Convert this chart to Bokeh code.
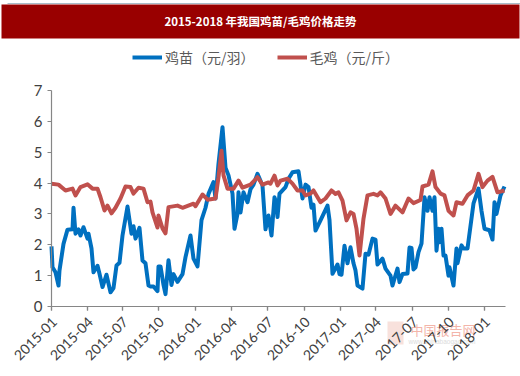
from bokeh.plotting import figure
from bokeh.models import FixedTicker, Legend, LegendItem, Label, BoxAnnotation, LinearAxis
from bokeh.embed import file_html
from bokeh.resources import INLINE
from math import pi

TITLE = "2015-2018 年我国鸡苗/毛鸡价格走势"
SERIES_A = "鸡苗（元/羽）"
SERIES_B = "毛鸡（元/斤）"
tick_pos = [0, 36, 71, 107, 144, 180, 216, 253, 289, 324, 361, 397, 433]
tick_txt = ["2015-01", "2015-04", "2015-07", "2015-10", "2016-01", "2016-04", "2016-07",
            "2016-10", "2017-01", "2017-04", "2017-07", "2017-10", "2018-01"]

a_idx = [0,1,4,7,8,12,16,21,22,24,27,29,32,36,37,40,42,46,48,51,55,59,62,65,68,71,76,80,82,84,88,91,94,97,99,102,
         106,107,109,112,114,117,120,122,126,131,134,139,142,146,150,154,157,162,164,167,171,174,177,181,183,186,187,
         189,192,196,199,202,206,211,214,217,220,223,225,226,228,234,237,241,247,251,254,257,260,262,264,269,276,278,
         281,286,288,290,293,296,299,302,304,306,311,314,317,321,324,326,331,334,339,341,346,348,351,356,358,360,362,
         364,367,370,373,376,378,381,383,385,387,388,390,392,394,397,398,402,405,406,410,412,416,422,427,430,433,438,
         441,443,445,449,453]
a_val = [1.95,1.27,1.11,0.68,1.17,2.03,2.49,2.5,3.2,2.36,2.5,2.3,2.57,2.2,2.36,1.88,1.11,1.32,1.06,0.63,1.03,0.46,0.6,
         1.33,1.42,2.3,3.24,2.36,2.6,2.2,2.55,1.49,1.4,0.68,0.65,0.65,0.5,1.3,1.3,0.7,0.4,1.5,0.7,1.05,0.8,1.05,1.6,2.3,
         1.55,1.3,2.8,3.2,3.65,4.03,3.5,4.63,5.81,4.5,4.25,3.66,2.52,3.0,3.7,3.05,3.7,3.38,3.8,3.95,4.3,3.92,2.5,2.95,2.3,
         3.54,3.33,2.9,3.66,3.87,4.14,4.35,4.38,3.5,3.95,3.87,3.2,3.3,2.46,2.79,3.27,2.8,1.06,1.36,1.05,1.03,1.97,1.4,1.92,
         1.4,1.17,0.68,0.58,1.71,1.68,2.2,2.17,1.36,1.55,1.23,1.0,0.68,1.23,0.79,1.05,1.07,1.91,1.9,1.2,1.27,1.76,2.04,3.54,
         3.1,3.54,3.1,3.54,1.81,2.52,2.08,2.52,1.65,1.65,1.0,1.27,0.68,1.88,1.4,1.98,1.88,1.88,3.34,3.82,3.1,2.52,2.47,2.17,
         3.38,3.0,3.6,3.89]
b_idx = [0,7,14,21,24,29,36,41,46,49,53,56,60,64,69,74,79,82,87,92,96,99,101,106,107,111,114,117,126,131,142,144,151,
         156,164,167,170,172,176,182,187,191,199,206,211,217,219,223,226,229,236,241,246,251,254,259,262,269,274,280,284,
         287,291,295,299,302,305,308,312,316,322,326,329,334,339,344,351,357,362,369,371,377,381,384,389,393,397,402,405,
         411,416,422,427,431,436,441,446,453]
b_val = [3.98,3.95,3.76,3.82,3.6,3.87,3.96,3.82,3.82,3.54,3.11,3.27,3.02,3.2,3.5,3.89,3.87,3.66,3.85,3.82,3.38,3.4,3.05,
         2.56,2.95,2.53,2.37,3.22,3.27,3.2,3.33,3.25,3.63,3.46,3.5,4.19,5.05,4.25,3.82,3.82,4.08,3.85,3.95,4.19,3.95,4.02,
         3.98,4.24,3.92,4.08,4.14,3.98,3.76,3.76,3.6,3.66,3.76,3.38,3.5,3.76,3.65,3.7,3.43,2.79,3.05,3.0,2.52,1.65,2.85,3.6,
         3.65,3.6,3.7,3.5,3.0,3.27,3.05,3.5,3.35,3.45,3.89,3.95,4.38,3.87,3.66,3.6,3.1,2.95,3.38,3.33,3.6,3.76,4.3,3.87,4.08,
         4.2,3.7,3.76]

W, H = 520, 376
FL, FB = 51, 306  # plot origin on the page


def dx(px):
    return px - FL


def dy(py):
    return (FB - py) / 216 * 7


p = figure(width=W, height=H, x_range=(dx(0), dx(W)), y_range=(dy(H), dy(0)), output_backend="svg",
           toolbar_location=None, min_border=0, min_border_left=0, min_border_right=0,
           min_border_top=0, min_border_bottom=0)
p.outline_line_color = None
p.background_fill_color = "white"
p.border_fill_color = "white"
p.xgrid.visible = False
p.ygrid.visible = False

for ax in (p.xaxis[0], p.yaxis[0]):
    ax.fixed_location = 0
    ax.axis_line_color = "#868686"
    ax.major_tick_line_color = "#868686"
    ax.axis_line_width = 1.2
    ax.major_tick_line_width = 1.2
    ax.major_tick_in = 0
    ax.major_tick_out = 4
    ax.minor_tick_out = 0
    ax.minor_tick_in = 0

p.yaxis.bounds = (0, 7)
p.yaxis.major_label_text_color = "#404040"
p.yaxis.major_label_text_font = "Lato"
p.yaxis.ticker = FixedTicker(ticks=list(range(8)))
p.yaxis.major_label_text_font_size = "15px"
p.xaxis.bounds = (0, 454)
p.xaxis.ticker = FixedTicker(ticks=tick_pos)
p.xaxis.major_label_overrides = {t: "" for t in tick_pos}

lab_ax = LinearAxis(ticker=FixedTicker(ticks=[t + 3 for t in tick_pos]), fixed_location=0,
                    major_label_overrides={t + 3: s for t, s in zip(tick_pos, tick_txt)},
                    major_label_orientation=pi / 4, major_label_text_font="Lato",
                    major_label_text_font_size="14px", major_label_text_color="#404040",
                    major_label_standoff=13, major_tick_in=0, major_tick_out=0, minor_tick_in=0, minor_tick_out=0,
                    axis_line_color=None, major_tick_line_color=None, minor_tick_line_color=None)
p.add_layout(lab_ax, "below")

p.segment(x0=tick_pos, y0=[0] * len(tick_pos), x1=tick_pos, y1=[dy(FB + 4)] * len(tick_pos),
          line_color="#868686", line_width=1.2)

la = p.line(a_idx, a_val, line_color="#0070C0", line_width=4, line_join="round")
lb = p.line(b_idx, b_val, line_color="#C0504D", line_width=4, line_join="round")

leg = Legend(items=[LegendItem(label=SERIES_A, renderers=[la]), LegendItem(label=SERIES_B, renderers=[lb])],
             orientation="horizontal", location=(132, H - 67), border_line_color=None, background_fill_alpha=0,
             label_text_font="Noto Sans CJK SC", label_text_font_size="14px", label_text_color="#595959",
             glyph_width=30, glyph_height=10, spacing=22, padding=0, margin=0, label_standoff=3)
p.add_layout(leg, "center")

p.add_layout(BoxAnnotation(left=dx(7), right=dx(520), top=dy(2.5), bottom=dy(3.5), fill_color="#a9bcc9", fill_alpha=1,
                           line_color=None))
p.add_layout(BoxAnnotation(left=dx(1), right=dx(519), top=dy(4), bottom=dy(38), fill_color="#990000", fill_alpha=1,
                           line_color=None))
p.add_layout(Label(x=dx(260), y=dy(20), text=TITLE, text_align="center",
                   text_baseline="middle", text_color="white", text_font="Noto Sans CJK SC",
                   text_font_style="bold", text_font_size="11.5px"))

p.add_layout(BoxAnnotation(left=dx(387), right=dx(403), top=dy(321), bottom=dy(344), fill_color="#f6d9d3", fill_alpha=0.8,
                           line_color=None, level="underlay"))
p.add_layout(Label(x=dx(410), y=dy(329), text="中国报告网", text_align="left",
                   text_baseline="middle", text_color="#f3b5aa", text_font="Noto Sans CJK SC",
                   text_font_size="13px", level="underlay"))
p.add_layout(Label(x=dx(408), y=dy(341), text="www.chinabaogao.com", text_align="left",
                   text_baseline="middle", text_color="#dcdcdc", text_font="Liberation Sans",
                   text_font_size="6.5px", level="underlay"))

open("out.html", "w").write(file_html(p, INLINE))
